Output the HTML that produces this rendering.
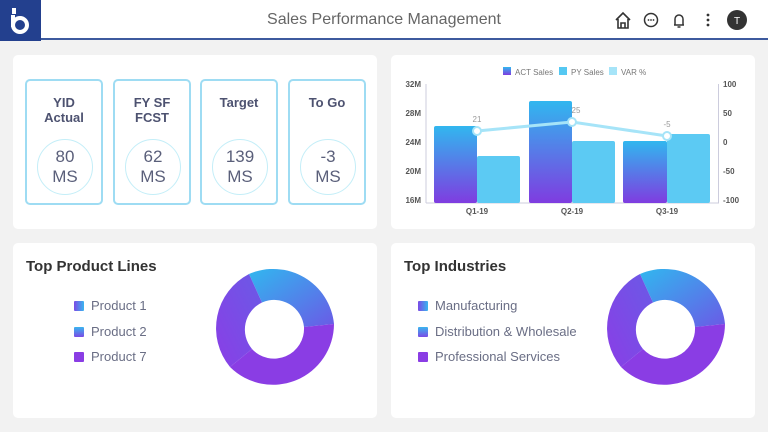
<!DOCTYPE html><html><head><style>
*{margin:0;padding:0;box-sizing:border-box}
body{width:768px;height:432px;background:#f2f2f2;font-family:"Liberation Sans",sans-serif;position:relative;overflow:hidden}
.hdr{position:absolute;left:0;top:0;width:768px;height:40px;background:#fff;border-bottom:2px solid #3d5a9e}
.logo{position:absolute;left:0;top:0;width:41px;height:41px;background:#23408e}
.title{position:absolute;left:0;width:768px;top:11px;text-align:center;font-size:16px;color:#666}
.panel{position:absolute;background:#fff;border-radius:5px}
.card{position:absolute;top:79px;width:78px;height:126px;border:2px solid #9edcf3;border-radius:5px;text-align:center;color:#4d5270;font-weight:bold;font-size:13px}
.card .t{position:absolute;top:14px;width:100%;line-height:15px}
.card .c{position:absolute;left:10px;top:58px;width:56px;height:56px;border:1px solid #c4eef8;border-radius:50%;font-weight:normal;font-size:17px;line-height:20px;padding-top:7px;color:#5a5f7a}
.h{position:absolute;font-size:15px;font-weight:bold;color:#333}
.lg{position:absolute;font-size:13px;color:#6a6e85}
.lg span{display:inline-block;width:10px;height:10px;margin-right:7px;vertical-align:-1px;border-radius:1px}
</style></head><body>
<div class="hdr"></div>
<div class="logo"><svg width="41" height="41"><rect x="12" y="8" width="4" height="6" fill="#fff"/><circle cx="20" cy="25" r="7" fill="none" stroke="#fff" stroke-width="4"/><rect x="11" y="15" width="4" height="12" fill="#fff"/></svg></div>
<div class="title">Sales Performance Management</div>
<svg style="position:absolute;left:612px;top:10px" width="140" height="22">
<path d="M4 10 L11 3 L18 10 M6 9 V18 H16 V9 M9 18 V13 H13 V18" fill="none" stroke="#333" stroke-width="1.6"/>
<circle cx="39" cy="10" r="6.5" fill="none" stroke="#333" stroke-width="1.5"/><circle cx="36.5" cy="10" r="0.9" fill="#333"/><circle cx="39" cy="10" r="0.9" fill="#333"/><circle cx="41.5" cy="10" r="0.9" fill="#333"/>
<path d="M63 15 V9 a4 4 0 0 1 8 0 V15 H62 H72 M65.5 17 H68.5" fill="none" stroke="#333" stroke-width="1.5"/>
<circle cx="96" cy="5" r="1.4" fill="#333"/><circle cx="96" cy="10" r="1.4" fill="#333"/><circle cx="96" cy="15" r="1.4" fill="#333"/>
<circle cx="125" cy="10" r="10" fill="#333"/><text x="125" y="14" font-size="10" fill="#fff" text-anchor="middle" font-family="Liberation Sans">T</text>
</svg>
<div class="panel" style="left:13px;top:55px;width:364px;height:174px"></div>
<div class="panel" style="left:391px;top:55px;width:364px;height:174px"></div>
<div class="panel" style="left:13px;top:243px;width:364px;height:175px"></div>
<div class="panel" style="left:391px;top:243px;width:364px;height:175px"></div>
<div class="card" style="left:25px"><div class="t">YID<br>Actual</div><div class="c">80<br>MS</div></div>
<div class="card" style="left:113px"><div class="t">FY SF<br>FCST</div><div class="c">62<br>MS</div></div>
<div class="card" style="left:200px"><div class="t">Target</div><div class="c">139<br>MS</div></div>
<div class="card" style="left:288px"><div class="t">To Go</div><div class="c">-3<br>MS</div></div>
<svg style="position:absolute;left:0;top:0" width="768" height="432" font-family="Liberation Sans">
<defs><linearGradient id="g" x1="0" y1="0" x2="0" y2="1"><stop offset="0" stop-color="#31b7ef"/><stop offset="1" stop-color="#7f3ce0"/></linearGradient>
<linearGradient id="gd" x1="0" y1="0" x2="1" y2="1"><stop offset="0" stop-color="#31b7ef"/><stop offset="1" stop-color="#6a5ae6"/></linearGradient>
<linearGradient id="gl" x1="1" y1="0" x2="0" y2="1"><stop offset="0" stop-color="#6a5ae6"/><stop offset="1" stop-color="#8a3ee6"/></linearGradient></defs>
<rect x="503" y="67" width="8" height="8" fill="url(#g)"/><text x="515" y="75" font-size="8" fill="#777">ACT Sales</text>
<rect x="559" y="67" width="8" height="8" fill="#55c8f2"/><text x="571" y="75" font-size="8" fill="#777">PY Sales</text>
<rect x="609" y="67" width="8" height="8" fill="#a6e4f8"/><text x="621" y="75" font-size="8" fill="#777">VAR %</text>
<g font-size="8" fill="#555" font-weight="bold" text-anchor="end"><text x="421" y="87">32M</text><text x="421" y="116">28M</text><text x="421" y="145">24M</text><text x="421" y="174">20M</text><text x="421" y="203">16M</text></g>
<g font-size="8" fill="#555" font-weight="bold"><text x="723" y="87">100</text><text x="723" y="116">50</text><text x="723" y="145">0</text><text x="723" y="174">-50</text><text x="723" y="203">-100</text></g>
<line x1="426" y1="84" x2="426" y2="203" stroke="#ccd" /><line x1="718.5" y1="84" x2="718.5" y2="203" stroke="#ccd"/><line x1="426" y1="203" x2="719" y2="203" stroke="#ccd"/>
<rect x="434" y="126" width="43" height="77" rx="2" fill="url(#g)"/><rect x="477" y="156" width="43" height="47" rx="2" fill="#5ccaf3"/>
<rect x="529" y="101" width="43" height="102" rx="2" fill="url(#g)"/><rect x="572" y="141" width="43" height="62" rx="2" fill="#5ccaf3"/>
<rect x="623" y="141" width="44" height="62" rx="2" fill="url(#g)"/><rect x="667" y="134" width="43" height="69" rx="2" fill="#5ccaf3"/>
<polyline points="477,131 572,122 667,136" fill="none" stroke="#a6e4f8" stroke-width="3"/>
<g fill="#fff" stroke="#a6e4f8" stroke-width="2"><circle cx="477" cy="131" r="4"/><circle cx="572" cy="122" r="4"/><circle cx="667" cy="136" r="4"/></g>
<g font-size="8" fill="#999" text-anchor="middle"><text x="477" y="122">21</text><text x="576" y="113">25</text><text x="667" y="127">-5</text></g>
<g font-size="8" fill="#555" font-weight="bold" text-anchor="middle"><text x="477" y="214">Q1-19</text><text x="572" y="214">Q2-19</text><text x="667" y="214">Q3-19</text></g>
<g transform="translate(274,330)"><path d="M-25 -56 A61 61 0 0 1 60 -6 L30 -3 A30 30 0 0 0 -12 -27.5Z" fill="url(#gd)"/><path d="M60 -6 A61 61 0 0 1 -44 37 L-22 19 A30 30 0 0 0 30 -3Z" fill="#8a3de4"/><path d="M-44 37 A61 61 0 0 1 -25 -56 L-12 -27.5 A30 30 0 0 0 -22 19Z" fill="url(#gl)"/></g>
<g transform="translate(665,330)"><path d="M-25 -56 A61 61 0 0 1 60 -6 L30 -3 A30 30 0 0 0 -12 -27.5Z" fill="url(#gd)"/><path d="M60 -6 A61 61 0 0 1 -44 37 L-22 19 A30 30 0 0 0 30 -3Z" fill="#8a3de4"/><path d="M-44 37 A61 61 0 0 1 -25 -56 L-12 -27.5 A30 30 0 0 0 -22 19Z" fill="url(#gl)"/></g>
</svg>
<div class="h" style="left:26px;top:258px">Top Product Lines</div>
<div class="h" style="left:404px;top:258px">Top Industries</div>
<div class="lg" style="left:74px;top:298px"><span style="background:linear-gradient(90deg,#7a4be6,#3ab5ef)"></span>Product 1</div>
<div class="lg" style="left:74px;top:324px"><span style="background:linear-gradient(#3ab5ef,#7a4be6)"></span>Product 2</div>
<div class="lg" style="left:74px;top:349px"><span style="background:#8a3de4"></span>Product 7</div>
<div class="lg" style="left:418px;top:298px"><span style="background:linear-gradient(90deg,#7a4be6,#3ab5ef)"></span>Manufacturing</div>
<div class="lg" style="left:418px;top:324px"><span style="background:linear-gradient(#3ab5ef,#7a4be6)"></span>Distribution &amp; Wholesale</div>
<div class="lg" style="left:418px;top:349px"><span style="background:#8a3de4"></span>Professional Services</div>
</body></html>
